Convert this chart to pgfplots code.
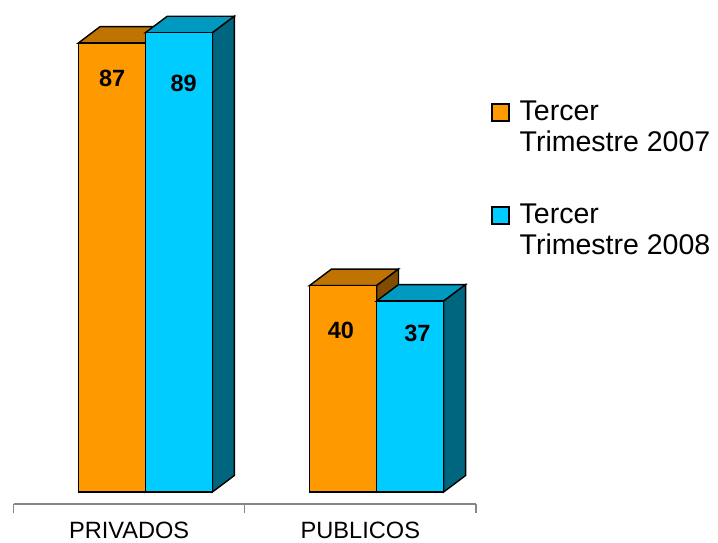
\documentclass[border=0pt]{standalone}
\usepackage{fontspec}
\setmainfont{Liberation Sans}
\usepackage{pgfplots}
\pgfplotsset{compat=1.18}

\definecolor{orF}{HTML}{FF9900}
\definecolor{orT}{HTML}{BF7300}
\definecolor{orS}{HTML}{804D00}
\definecolor{cyF}{HTML}{00CCFF}
\definecolor{cyT}{HTML}{0099BF}
\definecolor{cyS}{HTML}{006680}
\definecolor{axgray}{HTML}{868686}

\begin{document}
\begin{tikzpicture}
\path[use as bounding box] (0,0) rectangle (718bp,543bp);
\begin{axis}[
  at={(13.5bp,39bp)}, anchor=south west,
  scale only axis, width=462.5bp, height=504bp,
  xmin=-0.5, xmax=1.5, ymin=-2.326, ymax=95.35,
  clip=false,
  axis y line=none,
  axis x line*=bottom,
  x axis line style={-, draw=axgray, line width=1.4bp},
  xtick={0,1}, xticklabels={PRIVADOS,PUBLICOS},
  minor xtick={-0.5,0.5,1.5},
  major tick length=0pt, minor tick length=9bp,
  tick align=outside,
  every tick/.style={draw=axgray, line width=1.4bp},
  xticklabel style={font=\fontsize{23.6bp}{28bp}\selectfont, anchor=base, yshift=-34bp},
  bar/.style={draw=black, line width=1.4bp, forget plot},
  legend image code/.code={\draw[#1,draw=black,line width=1.5bp] (0bp,6bp) rectangle (17bp,23bp);},
  legend style={at={(1.0324,0.7996)}, anchor=north west, draw=none, fill=none,
    inner sep=0pt, row sep=50.7bp, column sep=10bp,
    font=\fontsize{28.5bp}{31bp}\selectfont,
    nodes={inner sep=0pt, align=left}},
  legend cell align=left,
]
% PRIVADOS, 2007 (87)
\addplot[bar, fill=orT] coordinates {(-0.22,87) (0.07,87) (0.165,90.2) (-0.125,90.2)} -- cycle;
\addplot[bar, fill=orS] coordinates {(0.07,0) (0.165,3.2) (0.165,90.2) (0.07,87)} -- cycle;
\addplot[bar, fill=orF] coordinates {(-0.22,0) (0.07,0) (0.07,87) (-0.22,87)} -- cycle;
% PRIVADOS, 2008 (89)
\addplot[bar, fill=cyT] coordinates {(0.07,89) (0.36,89) (0.455,92.2) (0.165,92.2)} -- cycle;
\addplot[bar, fill=cyS] coordinates {(0.36,0) (0.455,3.2) (0.455,92.2) (0.36,89)} -- cycle;
\addplot[bar, fill=cyF] coordinates {(0.07,0) (0.36,0) (0.36,89) (0.07,89)} -- cycle;
% PUBLICOS, 2007 (40)
\addplot[bar, fill=orT] coordinates {(0.78,40) (1.07,40) (1.165,43.2) (0.875,43.2)} -- cycle;
\addplot[bar, fill=orS] coordinates {(1.07,0) (1.165,3.2) (1.165,43.2) (1.07,40)} -- cycle;
\addplot[bar, fill=orF] coordinates {(0.78,0) (1.07,0) (1.07,40) (0.78,40)} -- cycle;
% PUBLICOS, 2008 (37)
\addplot[bar, fill=cyT] coordinates {(1.07,37) (1.36,37) (1.455,40.2) (1.165,40.2)} -- cycle;
\addplot[bar, fill=cyS] coordinates {(1.36,0) (1.455,3.2) (1.455,40.2) (1.36,37)} -- cycle;
\addplot[bar, fill=cyF] coordinates {(1.07,0) (1.36,0) (1.36,37) (1.07,37)} -- cycle;

% value labels
\begin{scope}[every node/.style={font=\fontsize{23.5bp}{26bp}\selectfont\bfseries}]
\node at (axis cs:-0.0736,80.2) {87};
\node at (axis cs:0.236,79.1) {89};
\node at (axis cs:0.9156,31.4) {40};
\node at (axis cs:1.2468,30.7) {37};
\end{scope}

\addlegendimage{fill=orF}
\addlegendentry{Tercer\\Trimestre 2007}
\addlegendimage{fill=cyF}
\addlegendentry{Tercer\\Trimestre 2008}
\end{axis}
\end{tikzpicture}
\end{document}
